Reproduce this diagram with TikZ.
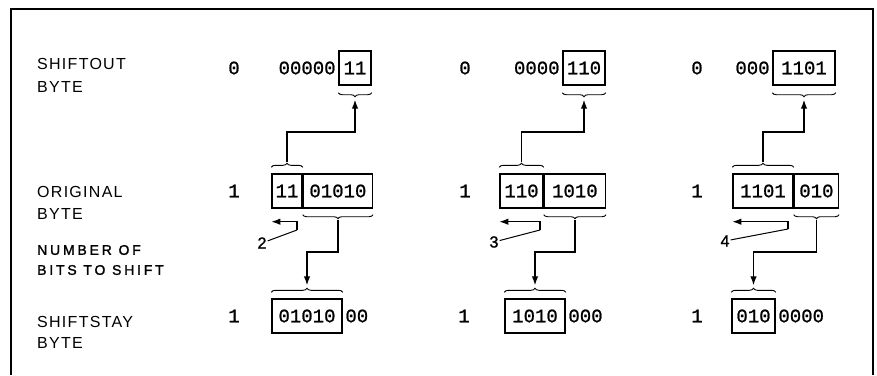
\documentclass[tikz,border=0pt]{standalone}
\usepackage{fontspec}
\setmainfont{Liberation Sans}
\newfontfamily\bitfont[FakeBold=1]{Liberation Mono}
\newfontfamily\labelfont[LetterSpace=8]{Liberation Sans}
\newfontfamily\notefont[LetterSpace=20, FakeBold=1.5]{Liberation Sans}
\usetikzlibrary{arrows.meta, decorations.pathreplacing, calc}

\newcommand{\bitsize}{\bitfont\fontsize{19}{21}\selectfont}
\newcommand{\labelsize}{\labelfont\fontsize{16}{23}\selectfont}
\newcommand{\notesize}{\notefont\fontsize{14}{20}\selectfont}

\tikzset{
  cell/.style={draw, line width=1.4pt, minimum height=34pt, inner sep=0pt, font=\bitsize},
  bits/.style={inner sep=2.5pt, font=\bitsize},
  rowlabel/.style={anchor=west, align=left, inner sep=0pt, font=\labelsize},
  count/.style={inner sep=1pt, font=\notefont\fontsize{16}{18}\selectfont},
  bracket/.style={decorate, decoration={brace, amplitude=4pt}, line width=0.9pt},
  flow/.style={-{Latex[length=9pt, width=6.5pt]}, line width=1.3pt},
  leader/.style={line width=1pt},
}

\begin{document}
\begin{tikzpicture}[x=1pt, y=-1pt]
  \useasboundingbox (0,0) rectangle (877,375);
  \draw[line width=1.5pt] (11,375) -- (11,9) -- (873,9) -- (873,375);
  % ---------------- row labels ----------------
  \node[rowlabel] (lout) at (37,75) {SHIFTOUT\\BYTE};
  \node[rowlabel] (lorig) at (37,203) {ORIGINAL\\[-1pt]BYTE};
  \node[rowlabel, font=\notesize] (lnum) at (37,260) {NUMBER OF\\BITS TO SHIFT};
  \node[rowlabel] (lstay) at (37,332) {SHIFTSTAY\\[-2pt]BYTE};
  % ---------------- shift by 2 ----------------
  \node[bits] (z1) at (234,68) {0};
  \node[cell, minimum width=32pt] (o1) at (355,68) {11};
  \node[bits, anchor=east] (p1) at (o1.west) {00000};
  \node[bits] (y1) at (234,191) {1};
  \node[cell, minimum width=30pt] (a1) at (287,191) {11};
  \node[cell, minimum width=69pt, anchor=west] (b1) at (a1.east) {01010};
  \node[bits] (x1) at (234,316) {1};
  \node[cell, minimum width=70pt] (s1) at (307,316) {01010};
  \node[bits, anchor=west] (q1) at (s1.east) {00};
  \node[count] (n1) at (262,243) {2};
  \draw[bracket] ([yshift=-7pt]o1.south east) -- ([yshift=-7pt]o1.south west);
  \draw[bracket] ([yshift=6pt]a1.north west) -- ([yshift=6pt]a1.north east);
  \draw[bracket] ([yshift=-6pt]b1.south east) -- ([yshift=-6pt]b1.south west);
  \draw[bracket] ([yshift=6pt]s1.north west) -- ([yshift=6pt]s1.north east);
  \coordinate (o1t) at ([yshift=-14pt]o1.south);
  \coordinate (a1t) at ([yshift=11pt]a1.north);
  \coordinate (b1t) at ([yshift=-11pt]b1.south);
  \coordinate (s1t) at ([yshift=13pt]s1.north);
  \coordinate (k1) at (297,230);
  \draw[flow] (a1t) -- (a1t |- 0,132) -| (o1t);
  \draw[flow] (b1t) -- (b1t |- 0,252) -| (s1t);
  \draw[flow] (k1) |- ([yshift=-13pt]a1.south west);
  \draw[leader] (n1) -- (k1);
  % ---------------- shift by 3 ----------------
  \node[bits] (z2) at (465,68) {0};
  \node[cell, minimum width=42pt] (o2) at (584,68) {110};
  \node[bits, anchor=east] (p2) at (o2.west) {0000};
  \node[bits] (y2) at (465,191) {1};
  \node[cell, minimum width=43pt] (a2) at (521.5,191) {110};
  \node[cell, minimum width=61pt, anchor=west] (b2) at (a2.east) {1010};
  \node[bits] (x2) at (464,316) {1};
  \node[cell, minimum width=60pt] (s2) at (535,316) {1010};
  \node[bits, anchor=west] (q2) at (s2.east) {000};
  \node[count] (n2) at (494,242) {3};
  \draw[bracket] ([yshift=-7pt]o2.south east) -- ([yshift=-7pt]o2.south west);
  \draw[bracket] ([yshift=6pt]a2.north west) -- ([yshift=6pt]a2.north east);
  \draw[bracket] ([yshift=-6pt]b2.south east) -- ([yshift=-6pt]b2.south west);
  \draw[bracket] ([yshift=6pt]s2.north west) -- ([yshift=6pt]s2.north east);
  \coordinate (o2t) at ([yshift=-14pt]o2.south);
  \coordinate (a2t) at ([yshift=11pt]a2.north);
  \coordinate (b2t) at ([yshift=-11pt]b2.south);
  \coordinate (s2t) at ([yshift=13pt]s2.north);
  \coordinate (k2) at (540,230);
  \draw[flow] (a2t) -- (a2t |- 0,132) -| (o2t);
  \draw[flow] (b2t) -- (b2t |- 0,252) -| (s2t);
  \draw[flow] (k2) |- ([yshift=-13pt]a2.south west);
  \draw[leader] (n2) -- (k2);
  % ---------------- shift by 4 ----------------
  \node[bits] (z3) at (697,68) {0};
  \node[cell, minimum width=62pt] (o3) at (804,68) {1101};
  \node[bits, anchor=east] (p3) at (o3.west) {000};
  \node[bits] (y3) at (697,191) {1};
  \node[cell, minimum width=60pt] (a3) at (763,191) {1101};
  \node[cell, minimum width=44pt, anchor=west] (b3) at (a3.east) {010};
  \node[bits] (x3) at (697,316) {1};
  \node[cell, minimum width=43pt] (s3) at (753.5,316) {010};
  \node[bits, anchor=west] (q3) at (s3.east) {0000};
  \node[count] (n3) at (725,241) {4};
  \draw[bracket] ([yshift=-7pt]o3.south east) -- ([yshift=-7pt]o3.south west);
  \draw[bracket] ([yshift=6pt]a3.north west) -- ([yshift=6pt]a3.north east);
  \draw[bracket] ([yshift=-6pt]b3.south east) -- ([yshift=-6pt]b3.south west);
  \draw[bracket] ([yshift=6pt]s3.north west) -- ([yshift=6pt]s3.north east);
  \coordinate (o3t) at ([yshift=-14pt]o3.south);
  \coordinate (a3t) at ([yshift=11pt]a3.north);
  \coordinate (b3t) at ([yshift=-11pt]b3.south);
  \coordinate (s3t) at ([yshift=13pt]s3.north);
  \coordinate (k3) at (788,229);
  \draw[flow] (a3t) -- (a3t |- 0,132) -| (o3t);
  \draw[flow] (b3t) -- (b3t |- 0,252) -| (s3t);
  \draw[flow] (k3) |- ([yshift=-13pt]a3.south west);
  \draw[leader] (n3) -- (k3);
\end{tikzpicture}
\end{document}
